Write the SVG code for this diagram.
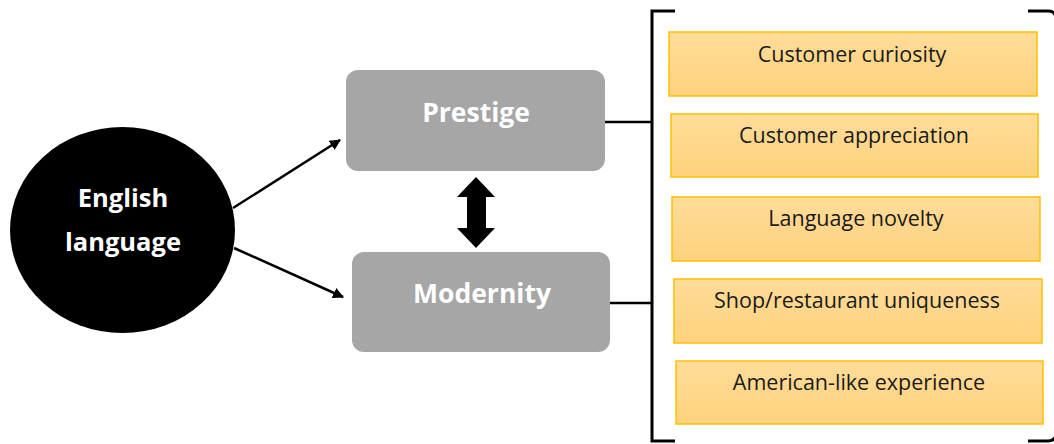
<svg xmlns="http://www.w3.org/2000/svg" width="1054" height="444" viewBox="0 0 1054 444">
  <defs>
    <linearGradient id="gold" x1="0" y1="0" x2="0" y2="1">
      <stop offset="0" stop-color="#ffdc99"/>
      <stop offset="1" stop-color="#fed27d"/>
    </linearGradient>
    <marker id="head" viewBox="0 0 10 10" refX="9" refY="5" markerWidth="11" markerHeight="11" markerUnits="userSpaceOnUse" orient="auto">
      <path d="M0,0 L10,5 L0,10 z" fill="#000"/>
    </marker>
    <style>
      .hub { fill: #000; }
      .hub-text { fill: #fff; font-family: "Open Sans", "Liberation Sans", sans-serif; font-weight: bold; font-size: 25.5px; text-anchor: middle; }
      .box { fill: #a6a6a6; }
      .box-text { fill: #fff; font-family: "Open Sans", "Liberation Sans", sans-serif; font-weight: bold; font-size: 26.5px; text-anchor: middle; }
      .item { fill: url(#gold); stroke: #ffc000; stroke-width: 1.5; }
      .item-text { fill: #1a1a1a; font-family: "Open Sans", "Liberation Sans", sans-serif; font-size: 21.5px; text-anchor: middle; }
      .wire { stroke: #000; stroke-width: 2.5; fill: none; }
      .bracket { stroke: #000; stroke-width: 3; fill: none; }
    </style>
  </defs>

  <g id="english-language">
    <ellipse class="hub" cx="122.5" cy="230" rx="112.5" ry="103"/>
    <text class="hub-text" x="123" y="207">English</text>
    <text class="hub-text" x="123" y="251">language</text>
  </g>

  <g id="prestige">
    <rect class="box" x="346" y="70" width="259" height="101" rx="12"/>
    <text class="box-text" x="476" y="122">Prestige</text>
  </g>

  <g id="modernity">
    <rect class="box" x="352" y="252" width="258" height="100" rx="12"/>
    <text class="box-text" x="482" y="303">Modernity</text>
  </g>

  <g id="factors">
    <path class="bracket" d="M675,11 H652 V441 H675"/>
    <path class="bracket" d="M1028,11 H1048 Q1056,11 1056,19 V433 Q1056,441 1048,441 H1028"/>
    <g id="customer-curiosity">
      <rect class="item" x="669" y="32" width="368" height="64"/>
      <text class="item-text" x="852" y="62">Customer curiosity</text>
    </g>
    <g id="customer-appreciation">
      <rect class="item" x="671" y="114" width="367" height="63"/>
      <text class="item-text" x="854" y="143">Customer appreciation</text>
    </g>
    <g id="language-novelty">
      <rect class="item" x="672" y="197" width="368" height="64"/>
      <text class="item-text" x="856" y="226">Language novelty</text>
    </g>
    <g id="uniqueness">
      <rect class="item" x="674" y="279" width="368" height="64"/>
      <text class="item-text" x="857" y="308">Shop/restaurant uniqueness</text>
    </g>
    <g id="american-like">
      <rect class="item" x="676" y="361" width="367" height="63"/>
      <text class="item-text" x="859" y="390">American-like experience</text>
    </g>
  </g>

  <g id="connectors">
    <line class="wire" x1="233" y1="208" x2="340" y2="140" marker-end="url(#head)"/>
    <line class="wire" x1="234" y1="248" x2="343" y2="297" marker-end="url(#head)"/>
    <path d="M476,177 L495,197 L486,197 L486,228 L495,228 L476,248 L457,228 L467,228 L467,197 L457,197 Z" fill="#000"/>
    <line class="wire" x1="605" y1="122" x2="652" y2="122"/>
    <line class="wire" x1="610" y1="303" x2="652" y2="303"/>
  </g>
</svg>
